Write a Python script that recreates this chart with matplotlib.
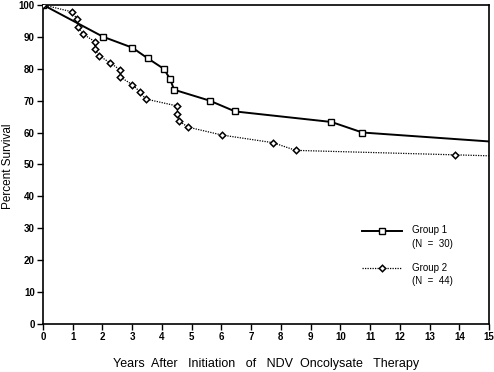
import matplotlib
matplotlib.use("Agg")
import matplotlib.pyplot as plt

plt.rcParams['font.family'] = ['Liberation Sans', 'DejaVu Sans']

# --- data ---
g1_years = [0, 2.02, 3.0, 3.53, 4.07, 4.27, 4.41, 5.6, 6.46, 9.7, 10.74]
g1_surv = [100, 90.0, 86.6, 83.2, 79.9, 76.8, 73.4, 70.0, 66.6, 63.3, 60.0]
g1_end = (15, 57.2)

g2_years = [0, 0.98, 1.14, 1.17, 1.34, 1.74, 1.74, 1.9, 2.26, 2.6, 2.6,
            3.0, 3.27, 3.45, 4.52, 4.52, 4.58, 4.87, 6.02, 7.74, 8.5, 13.87]
g2_surv = [100, 97.8, 95.6, 93.1, 90.9, 88.5, 86.2, 84.0, 81.8, 79.6, 77.4,
           75.0, 72.7, 70.5, 68.3, 65.9, 63.6, 61.7, 59.2, 56.8, 54.4, 53.0]
g2_end = (15, 52.7)

x_ticks = list(range(0, 16))
y_ticks = list(range(0, 101, 10))

SQ = dict(marker='s', ms=4.2, mfc='white', mec='black', mew=1.0)
DI = dict(marker='D', ms=3.3, mfc='white', mec='black', mew=1.1)

fig = plt.figure(figsize=(4.94, 3.72), dpi=100)
ax = fig.add_axes([0.087, 0.129, 0.903, 0.858])

# lines run on past the last marker to the edge
ax.plot(g1_years + [g1_end[0]], g1_surv + [g1_end[1]], color='black', lw=1.4,
        zorder=2)
ax.plot(g2_years + [g2_end[0]], g2_surv + [g2_end[1]], color='black', lw=0.9,
        ls=(0, (1, 1)), zorder=2)
ax.plot(g1_years, g1_surv, ls='none', zorder=3, **SQ)
ax.plot(g2_years, g2_surv, ls='none', zorder=4, **DI)

ax.set_xlim(0, 15)
ax.set_ylim(0, 100)
ax.set_xticks(x_ticks)
ax.set_yticks(y_ticks)
ax.tick_params(direction='out', length=4, width=1, labelsize=7, pad=2)
for lab in ax.get_xticklabels() + ax.get_yticklabels():
    lab.set_fontweight('bold')
for sp in ax.spines.values():
    sp.set_linewidth(1.2)

fig.text(8 / 494, 1 - 166 / 372, 'Percent Survival', rotation=90,
         fontsize=8.5, ha='center', va='center')
fig.text(266 / 494, 1 - 364 / 372,
         'Years  After   Initiation   of   NDV  Oncolysate   Therapy',
         fontsize=9, ha='center', va='center')

# legend drawn by hand to keep the two-line labels
lx0, lx1 = 10.73, 12.08
ax.plot([lx0, lx1], [29.2, 29.2], color='black', lw=1.4)
ax.plot([(lx0 + lx1) / 2], [29.2], **SQ)
ax.plot([lx0, lx1], [17.6, 17.6], color='black', lw=0.9, ls=(0, (1, 1)))
ax.plot([(lx0 + lx1) / 2], [17.6], **DI)
ax.text(12.41, 29.3, 'Group 1', fontsize=7, va='center')
ax.text(12.41, 25.1, '(N  =  30)', fontsize=7, va='center')
ax.text(12.41, 17.6, 'Group 2', fontsize=7, va='center')
ax.text(12.41, 13.5, '(N  =  44)', fontsize=7, va='center')

fig.savefig('out.png', dpi=100)
